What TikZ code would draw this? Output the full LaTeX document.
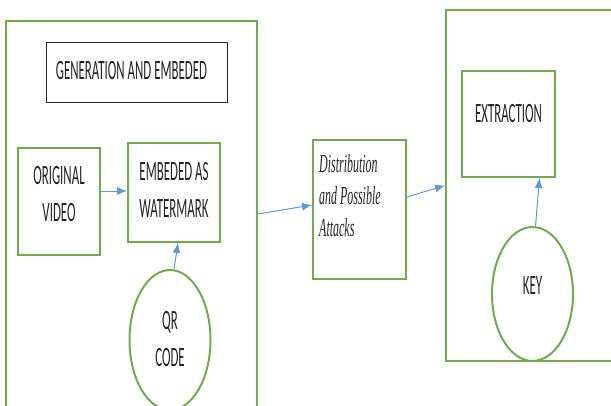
\documentclass[tikz,border=0pt]{standalone}
\usepackage{fontspec}
\setmainfont{Carlito}
\usepackage{graphicx}
\usetikzlibrary{arrows.meta,shapes.geometric}
\newfontfamily\serfont{Liberation Serif}
\definecolor{grn}{RGB}{112,173,71}
\definecolor{blu}{RGB}{91,155,213}
\definecolor{txt}{RGB}{35,35,35}
\newcommand\cond[1]{\scalebox{0.46}[1]{#1}}
\tikzset{
  gbox/.style={draw=grn, line width=2pt, fill=white, inner sep=0pt},
  bbox/.style={draw=black!85, line width=1pt, inner sep=0pt},
  gell/.style={draw=grn, line width=2pt, ellipse, fill=white, inner sep=0pt},
  arr/.style={draw=blu, line width=1pt, -{Latex[length=10pt,width=8pt]}},
  lbl/.style={inner sep=0pt, text=txt, font=\fontsize{28}{37}\selectfont, align=center},
  ilbl/.style={inner sep=0pt, text=txt, font=\serfont\itshape\fontsize{26}{32}\selectfont, align=left}
}
\begin{document}
\begin{tikzpicture}[x=1pt,y=-1pt]
\useasboundingbox (0,0) rectangle (611,405);
\clip (0,0) rectangle (611,405);
% big containers
\node[gbox, minimum width=251pt, minimum height=400pt] (L) at (131.5,221) {};
\node[gbox, minimum width=200pt, minimum height=351pt] (R) at (546,185.5) {};
% left contents
\node[bbox, minimum width=181pt, minimum height=60pt] (T) at (136.5,72) {};
\node[gbox, minimum width=82pt, minimum height=107pt] (ov) at (59,201.5) {};
\node[gbox, minimum width=92pt, minimum height=99pt] (emb) at (174,192.5) {};
\node[gell, minimum width=81pt, minimum height=140pt] (qr) at (170,340) {};
% middle
\node[gbox, minimum width=93pt, minimum height=139pt] (dist) at (359.5,209.5) {};
% right contents
\node[gbox, minimum width=93pt, minimum height=106pt] (ext) at (508.5,124) {};
\node[gell, minimum width=81pt, minimum height=134pt] (key) at (532.5,294) {};
% labels
\node[lbl] (tT) at (131.5,71) {\cond{GENERATION AND EMBEDED}};
\node[lbl] (tov) at (59,196) {\cond{\begin{tabular}{@{}c@{}}ORIGINAL\\VIDEO\end{tabular}}};
\node[lbl] (temb) at (174,191.5) {\cond{\begin{tabular}{@{}c@{}}EMBEDED AS\\WATERMARK\end{tabular}}};
\node[lbl] (tqr) at (170,341) {\cond{\begin{tabular}{@{}c@{}}QR\\CODE\end{tabular}}};
\node[ilbl, anchor=west] (tdist) at (319,198) {\cond{\begin{tabular}{@{}l@{}}Distribution\\and Possible\\Attacks\end{tabular}}};
\node[lbl] (text) at (508.5,114) {\cond{EXTRACTION}};
\node[lbl] (tkey) at (532.5,286) {\cond{KEY}};
% arrows
\draw[arr] (ov.east |- 0,191) -- (emb.west |- 0,191);
\draw[arr] ([xshift=4pt]qr.north) -- ([xshift=4pt]emb.south);
\draw[arr] ([yshift=7pt]L.east) -- ([yshift=4.5pt]dist.west);
\draw[arr] ([yshift=12.5pt]dist.east) -- (R.west);
\draw[arr] ([xshift=3pt]key.north) -- ([xshift=31pt]ext.south);
\end{tikzpicture}
\end{document}
